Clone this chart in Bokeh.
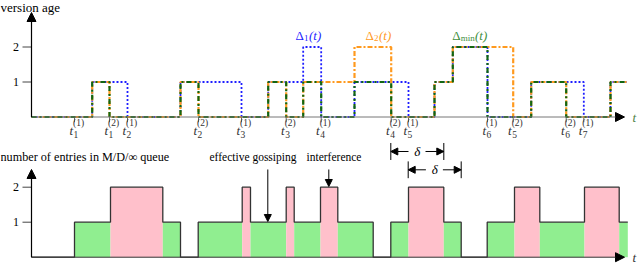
from bokeh.plotting import figure
from bokeh.models import Range1d, Arrow, NormalHead
from bokeh.layouts import column
from bokeh.embed import file_html
from bokeh.resources import INLINE
from bokeh.core.properties import value

# ---------------- data (time in arbitrary units, delta = 53) ----------------
delta1_t = [0, 60.7, 96, 149, 210, 236.7, 271.7, 289.7, 323, 377, 403, 421.3, 456, 499.7, 552.3, 579, 595]
delta1_v = [0, 1, 0, 1, 0, 1, 2, 0, 1, 0, 1, 2, 0, 1, 0, 1, 1]
delta2_t = [0, 60.7, 78, 149, 167, 236.7, 254.7, 271.7, 323, 359.7, 403, 421.3, 481.7, 499.7, 534.7, 579, 595]
delta2_v = [0, 1, 0, 1, 0, 1, 0, 1, 2, 0, 1, 2, 0, 1, 0, 1, 1]
dmin_t = [0, 60.7, 78, 149, 167, 236.7, 254.7, 271.7, 289.7, 323, 359.7, 403, 421.3, 456, 499.7, 534.7, 579, 595]
dmin_v = [0, 1, 0, 1, 0, 1, 0, 1, 0, 1, 0, 1, 2, 0, 1, 0, 1, 1]

tick_t = [43, 78, 96, 167, 210, 254.7, 289.7, 359.7, 377, 456, 481.7, 534.7, 552.3]
tick_sub = ["1", "1", "2", "2", "3", "3", "4", "4", "5", "6", "5", "6", "7"]
tick_sup = ["(1)", "(2)", "(1)", "(2)", "(1)", "(2)", "(1)", "(2)", "(1)", "(1)", "(2)", "(2)", "(1)"]

queue_t = [0, 43, 79, 131.3, 149, 166.7, 210.7, 219, 254.7, 262.7, 289, 306.3, 341.7,
           359.3, 377, 412.3, 429.7, 455.7, 483, 508.3, 553, 587.7, 596.3]
queue_n = [0, 1, 2, 1, 0, 1, 2, 1, 2, 1, 2, 1, 0, 1, 2, 1, 0, 1, 2, 1, 2, 1, 1]

y_ticks = [1, 2]
delta = 53

SERIF = "Liberation Serif"
BLUE = "#1f1fff"
ORANGE = "#ff9a1f"
GREEN = "#126612"
LGREEN = "#3f8f3f"


def make_fig(h, y0, y1):
    p = figure(width=640, height=h, x_range=Range1d(-31, 609), y_range=Range1d(y0, y1),
               output_backend="svg", toolbar_location=None, x_axis_type=None, y_axis_type=None,
               outline_line_color=None, background_fill_color="white", border_fill_color="white")
    p.min_border_left = p.min_border_right = p.min_border_top = p.min_border_bottom = 0
    p.grid.visible = False
    return p


def txt(p, x, y, s, size, color="black", align="left", style="normal", yoff=0, xoff=0):
    p.text(x=[x], y=[y], text=[s], text_font=value(SERIF), text_font_size=value(f"{size}px"),
           text_color=color, text_align=align, text_baseline="middle", text_font_style=style,
           x_offset=xoff, y_offset=yoff)


# ---------------- top panel ----------------
top = make_fig(140, -0.671, 3.329)

top.add_layout(Arrow(end=NormalHead(size=9, fill_color="black", line_color="black"),
                     x_start=0, y_start=0, x_end=593, y_end=0, line_color="#777777", line_width=1))
top.add_layout(Arrow(end=NormalHead(size=9, fill_color="black", line_color="black"),
                     x_start=0, y_start=0, x_end=0, y_end=2.986, line_color="black", line_width=1.2))
for v in y_ticks:
    top.segment(x0=[-9], y0=[v], x1=[0], y1=[v], line_color="#444444", line_width=1)
    txt(top, -15.5, v, str(v), 12, align="center")
txt(top, -31, 3.12, "version age", 13)
txt(top, 601, 0, "t", 13, color="#4d7f45", style="italic")

top.segment(x0=tick_t, y0=[0] * len(tick_t), x1=tick_t, y1=[-0.15] * len(tick_t),
            line_color="#666666", line_width=1)
top.text(x=tick_t, y=[-0.39] * len(tick_t), text=["t"] * len(tick_t), text_font=value(SERIF),
         text_font_size=value("13px"), text_font_style="italic", text_color="#333333",
         text_align="right", text_baseline="middle", x_offset=-1.5)
top.text(x=tick_t, y=[-0.18] * len(tick_t), text=tick_sup, text_font=value(SERIF),
         text_font_size=value("9.5px"), text_color="#333333", text_align="left",
         text_baseline="middle", x_offset=-1.5)
top.text(x=tick_t, y=[-0.5] * len(tick_t), text=tick_sub, text_font=value(SERIF),
         text_font_size=value("9.5px"), text_color="#333333", text_align="left",
         text_baseline="middle", x_offset=-1)

top.step(delta1_t, delta1_v, mode="after", line_color=BLUE, line_width=1.8, line_dash="2 2")
top.step(delta2_t, delta2_v, mode="after", line_color=ORANGE, line_width=2.2, line_dash="5 2 2 2")
top.step(dmin_t, dmin_v, mode="after", line_color=GREEN, line_width=2.2, line_dash="5 3 2 3")

ly = 2.33
txt(top, 264, ly, "Δ", 13, color=BLUE)
txt(top, 272.5, ly, "1", 9, color=BLUE, yoff=3)
txt(top, 277.5, ly, "(t)", 13, color=BLUE, style="italic")
txt(top, 334, ly, "Δ", 13, color=ORANGE)
txt(top, 342.5, ly, "2", 9, color=ORANGE, yoff=3)
txt(top, 347.5, ly, "(t)", 13, color=ORANGE, style="italic")
txt(top, 420.7, ly, "Δ", 13, color=LGREEN)
txt(top, 429.2, ly, "min", 9, color=LGREEN, yoff=3)
txt(top, 443.5, ly, "(t)", 13, color=LGREEN, style="italic")

# ---------------- bottom panel ----------------
bot = make_fig(132, -0.437, 3.334)

lefts, rights, tops, colors = [], [], [], []
for i in range(len(queue_t) - 1):
    if queue_n[i] > 0:
        lefts.append(queue_t[i])
        rights.append(queue_t[i + 1])
        tops.append(queue_n[i])
        colors.append("#90ee90" if queue_n[i] == 1 else "#ffc0cb")
bot.quad(left=lefts, right=rights, bottom=[0] * len(lefts), top=tops, fill_color=colors, line_color=None)

bot.add_layout(Arrow(end=NormalHead(size=9, fill_color="black", line_color="black"),
                     x_start=0, y_start=0, x_end=593, y_end=0, line_color="#333333", line_width=1))
bot.add_layout(Arrow(end=NormalHead(size=9, fill_color="black", line_color="black"),
                     x_start=0, y_start=0, x_end=0, y_end=2.506, line_color="black", line_width=1.2))
bot.step(queue_t, queue_n, mode="after", line_color="#333333", line_width=1.3)
for v in y_ticks:
    bot.segment(x0=[-9], y0=[v], x1=[0], y1=[v], line_color="#444444", line_width=1)
    txt(bot, -15.5, v, str(v), 12, align="center")
txt(bot, 601, 0, "t", 13, color="#333333", style="italic")

txt(bot, -31, 2.857, "number of entries in M/D/∞ queue", 12.2)
txt(bot, 221.5, 2.857, "effective gossiping", 11.5, align="center")
txt(bot, 302.5, 2.857, "interference", 11.5, align="center")
bot.add_layout(Arrow(end=NormalHead(size=7, fill_color="black", line_color="black"),
                     x_start=236.3, y_start=2.506, x_end=236.3, y_end=1.02, line_width=1))
bot.add_layout(Arrow(end=NormalHead(size=7, fill_color="black", line_color="black"),
                     x_start=297.3, y_start=2.506, x_end=297.3, y_end=2.02, line_width=1))

for (a, yc, hb) in [(359.3, 3.02, 0.243), (376.7, 2.497, 0.24)]:
    b = a + delta
    bot.segment(x0=[a, b], y0=[yc - hb, yc - hb], x1=[a, b], y1=[yc + hb, yc + hb],
                line_color="black", line_width=1)
    bot.add_layout(Arrow(end=NormalHead(size=7, fill_color="black", line_color="black"),
                         x_start=a + 17.7, y_start=yc, x_end=a, y_end=yc, line_width=1))
    bot.add_layout(Arrow(end=NormalHead(size=7, fill_color="black", line_color="black"),
                         x_start=b - 18.3, y_start=yc, x_end=b, y_end=yc, line_width=1))
    txt(bot, (a + b) / 2, yc, "δ", 13, align="center", style="italic")

layout = column(top, bot, spacing=0)
open("out.html", "w").write(file_html(layout, INLINE))
